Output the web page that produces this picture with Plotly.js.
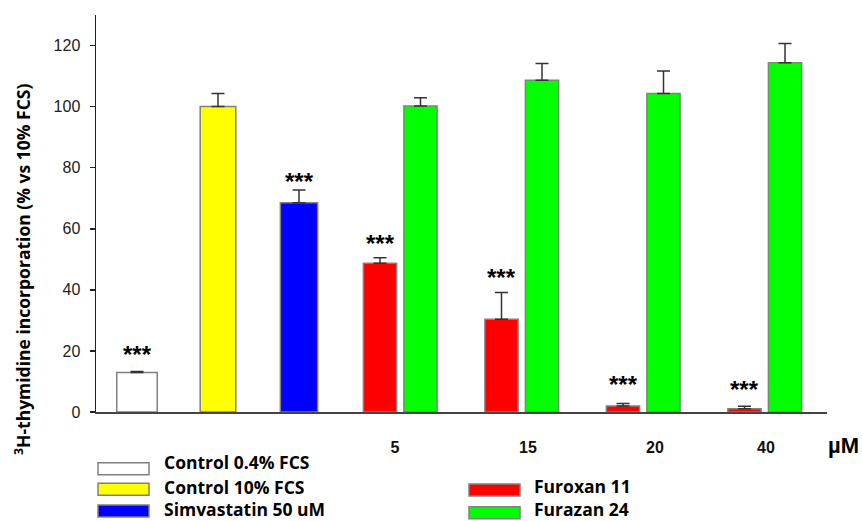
<!DOCTYPE html>
<html>
<head>
<meta charset="utf-8">
<script src="https://cdn.plot.ly/plotly-3.0.1.min.js"></script>
<style>html,body{margin:0;padding:0;background:#fff;}#chart{width:862px;height:521px;}</style>
</head>
<body>
<div id="chart"></div>
<script>
// ---- data ----
var seriesNames = ["Control 0.4% FCS", "Control 10% FCS", "Simvastatin 50 uM", "Furoxan 11", "Furazan 24"];
var doseLabels = ["5", "15", "20", "40"];
var controlValues = [12.9, 100.0, 68.5];
var controlErrors = [0.4, 4.3, 4.2];
var furoxanValues = [48.7, 30.4, 2.0, 1.1];
var furoxanErrors = [1.8, 8.7, 0.8, 0.8];
var furazanValues = [100.2, 108.6, 104.3, 114.4];
var furazanErrors = [2.7, 5.5, 7.4, 6.3];
var yTitle = "<sup>3</sup>H-thymidine incorporation (% vs 10% FCS)";
var unitLabel = "\u00b5M";
var sigMark = "***";

// ---- layout constants ----
var W = 862, H = 521, ML = 96, MR = 35, MT = 15, MB = 109;
var PW = W - ML - MR, PH = H - MT - MB;
function px2x(p){ return (p - ML) / PW; }
function py2y(p){ return (H - MB - p) / PH; }
var labelFont = "Open Sans, Noto Sans, sans-serif";

var controlPos = [1, 2, 3];
var pairPos = [4.25, 5.75, 7.25, 8.75];
var tickPos = [4.185, 5.827, 7.395, 8.765];
var colors = ["#ffffff", "#ffff00", "#0000ff", "#ff0000", "#00ff00"];
var controlWidths = [0.5, 0.44, 0.46];
var edge = {color: "#808080", width: 1.5};

function errY(arr){
  return {type: "data", symmetric: false, array: arr, arrayminus: arr.map(function(){return 0;}),
          color: "#333333", thickness: 1.5, width: 6.5};
}

var traces = [];
for (var i = 0; i < 3; i++) {
  traces.push({
    type: "bar", name: seriesNames[i], x: [controlPos[i]], y: [controlValues[i]],
    width: [controlWidths[i]], marker: {color: colors[i], line: edge},
    error_y: errY([controlErrors[i]]), showlegend: false, hoverinfo: "y"
  });
}
traces.push({
  type: "bar", name: seriesNames[3], x: pairPos, y: furoxanValues,
  width: 0.41, offset: -0.455, marker: {color: colors[3], line: edge},
  error_y: errY(furoxanErrors), showlegend: false, hoverinfo: "y"
});
traces.push({
  type: "bar", name: seriesNames[4], x: pairPos, y: furazanValues,
  width: 0.41, offset: 0.045, marker: {color: colors[4], line: {color: "#6f8f6f", width: 1.5}},
  error_y: errY(furazanErrors), showlegend: false, hoverinfo: "y"
});

// significance marks
var annotations = [];
var starX = [controlPos[0], controlPos[2], pairPos[0]-0.25, pairPos[1]-0.25, pairPos[2]-0.25, pairPos[3]-0.25];
var starY = [controlValues[0]+controlErrors[0], controlValues[2]+controlErrors[2]];
for (var k = 0; k < 4; k++) starY.push(furoxanValues[k] + furoxanErrors[k]);
var starShift = [20, 11, 17, 18, 22, 20];
for (var s = 0; s < starX.length; s++) {
  annotations.push({x: starX[s], y: starY[s], xref: "x", yref: "y", text: "<b>" + sigMark + "</b>", showarrow: false,
    yanchor: "middle", yshift: starShift[s] - 3,
    font: {family: "Liberation Sans, Arial, sans-serif", size: 24, color: "#000"}});
}
// y title
annotations.push({xref: "paper", yref: "paper", x: px2x(22), y: py2y(270), text: "<b>" + yTitle + "</b>", textangle: -90,
  showarrow: false, xanchor: "center", yanchor: "middle",
  font: {family: labelFont, size: 17.5, color: "#000"}});
// unit label
annotations.push({xref: "paper", yref: "paper", x: px2x(843), y: py2y(445), text: "<b>" + unitLabel + "</b>",
  showarrow: false, xanchor: "center", yanchor: "middle",
  font: {family: "Liberation Sans, Arial, sans-serif", size: 22, color: "#000"}});

// custom legend
var shapes = [];
var legItems = [
  {i: 0, bx: 98, by: 462.7, tx: 162, ty: 462},
  {i: 1, bx: 98, by: 483.3, tx: 162, ty: 487},
  {i: 2, bx: 98, by: 505,   tx: 162, ty: 509},
  {i: 3, bx: 469, by: 484,  tx: 532, ty: 486},
  {i: 4, bx: 469, by: 506.7,tx: 532, ty: 509}
];
legItems.forEach(function(it){
  shapes.push({type: "rect", xref: "paper", yref: "paper",
    x0: px2x(it.bx), x1: px2x(it.bx + 51), y0: py2y(it.by), y1: py2y(it.by + 12),
    fillcolor: colors[it.i], line: {color: "#808080", width: 1.5}});
  annotations.push({xref: "paper", yref: "paper", x: px2x(it.tx), y: py2y(it.ty), text: "<b>" + seriesNames[it.i] + "</b>",
    showarrow: false, xanchor: "left", yanchor: "middle",
    font: {family: labelFont, size: 17.5, color: "#000"}});
});

var layout = {
  width: W, height: H, margin: {l: ML, r: MR, t: MT, b: MB, pad: 0},
  paper_bgcolor: "#fff", plot_bgcolor: "#fff", barmode: "overlay", showlegend: false,
  xaxis: {range: [1 - (137 - ML) / 81, 1 + (W - MR - 137) / 81], showgrid: false, zeroline: false,
    showline: true, linecolor: "#444", linewidth: 1.5,
    tickmode: "array", tickvals: tickPos, ticktext: doseLabels.map(function(t){return "<b>" + t + "</b>";}),
    ticks: "outside", ticklen: 20, tickcolor: "rgba(0,0,0,0)",
    tickfont: {family: "Liberation Sans, Arial, sans-serif", size: 16, color: "#111"}},
  yaxis: {range: [0, 130], showgrid: false, zeroline: false, showline: true, linecolor: "#222", linewidth: 1.5,
    tickmode: "array", tickvals: [0, 20, 40, 60, 80, 100, 120], ticks: "outside", ticklen: 5, tickwidth: 1.5,
    tickcolor: "#222", ticklabelstandoff: 6,
    tickfont: {family: "Liberation Sans, Arial, sans-serif", size: 16, color: "#222"}},
  annotations: annotations, shapes: shapes
};

Plotly.newPlot("chart", traces, layout, {displayModeBar: false, staticPlot: true});
</script>
</body>
</html>
